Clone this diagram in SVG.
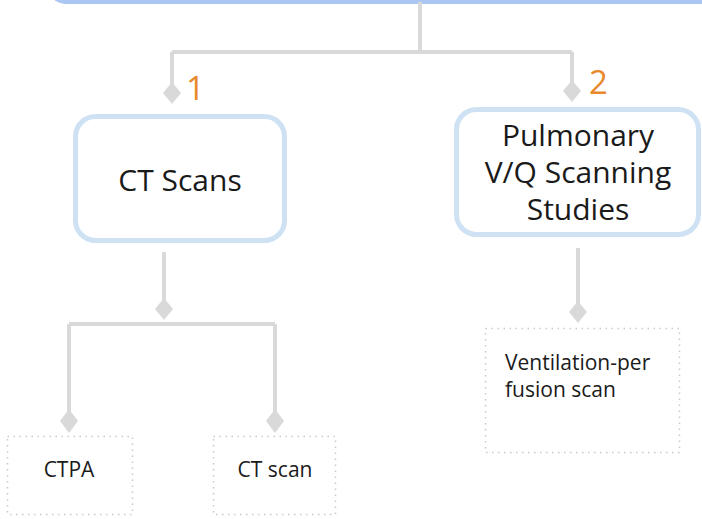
<svg xmlns="http://www.w3.org/2000/svg" width="702" height="519" viewBox="0 0 702 519">
  <style>
    .wire { fill: none; stroke: #d9d9d9; stroke-width: 4; stroke-linejoin: miter; }
    .tip { fill: #d9d9d9; }
    .main { fill: #ffffff; stroke: #cfe2f3; stroke-width: 5; }
    .root { fill: #ffffff; stroke: #a9c7f2; stroke-width: 4; }
    .leaf { fill: #ffffff; stroke: #c9c9c9; stroke-width: 1.5; stroke-dasharray: 1.5 4.5; }
    .big { font-family: "Open Sans", "Noto Sans", sans-serif; font-size: 30px; fill: #1a1a1a; text-anchor: middle; }
    .small { font-family: "Open Sans", "Noto Sans", sans-serif; font-size: 21px; fill: #1a1a1a; }
    .num { font-family: "Open Sans", "Noto Sans", sans-serif; font-size: 33px; fill: #e8892b; }
  </style>

  <!-- root node, only its lower edge is in view -->
  <g id="root">
    <rect class="root" x="47" y="-60" width="700" height="62" rx="20"/>
  </g>

  <g id="connectors">
    <path class="wire" d="M420 2 V52 M172 52 H572 M172 52 V88 M572 52 V86"/>
    <path class="tip" d="M172 82 L181 93 L172 104 L163 93 Z"/>
    <path class="tip" d="M572 80 L581 91 L572 102 L563 91 Z"/>
    <path class="wire" d="M164 252 V304"/>
    <path class="tip" d="M164 298 L173 309 L164 320 L155 309 Z"/>
    <path class="wire" d="M69 324 H275 M69 324 V415 M275 324 V415"/>
    <path class="tip" d="M69 409 L78 421 L69 433 L60 421 Z"/>
    <path class="tip" d="M275 409 L284 421 L275 433 L266 421 Z"/>
    <path class="wire" d="M578 248 V306"/>
    <path class="tip" d="M578 301 L587 312 L578 323 L569 312 Z"/>
    <text class="num" x="186" y="100">1</text>
    <text class="num" x="589" y="94">2</text>
  </g>

  <g id="ct-scans">
    <rect class="main" x="75.5" y="116.5" width="209" height="124" rx="20"/>
    <text class="big" x="180" y="191">CT Scans</text>
  </g>

  <g id="vq-scanning">
    <rect class="main" x="456.5" y="109.5" width="242" height="125" rx="20"/>
    <text class="big" x="578" y="146">Pulmonary</text>
    <text class="big" x="578" y="183">V/Q Scanning</text>
    <text class="big" x="578" y="220">Studies</text>
  </g>

  <g id="ctpa">
    <rect class="leaf" x="7.5" y="436.5" width="125" height="78"/>
    <text class="small" x="69" y="477" text-anchor="middle">CTPA</text>
  </g>

  <g id="ct-scan">
    <rect class="leaf" x="213.5" y="436.5" width="122" height="78"/>
    <text class="small" x="275" y="477" text-anchor="middle">CT scan</text>
  </g>

  <g id="vq-scan">
    <rect class="leaf" x="485.5" y="328.5" width="194" height="124"/>
    <text class="small" x="505" y="370">Ventilation-per</text>
    <text class="small" x="505" y="397">fusion scan</text>
  </g>
</svg>
